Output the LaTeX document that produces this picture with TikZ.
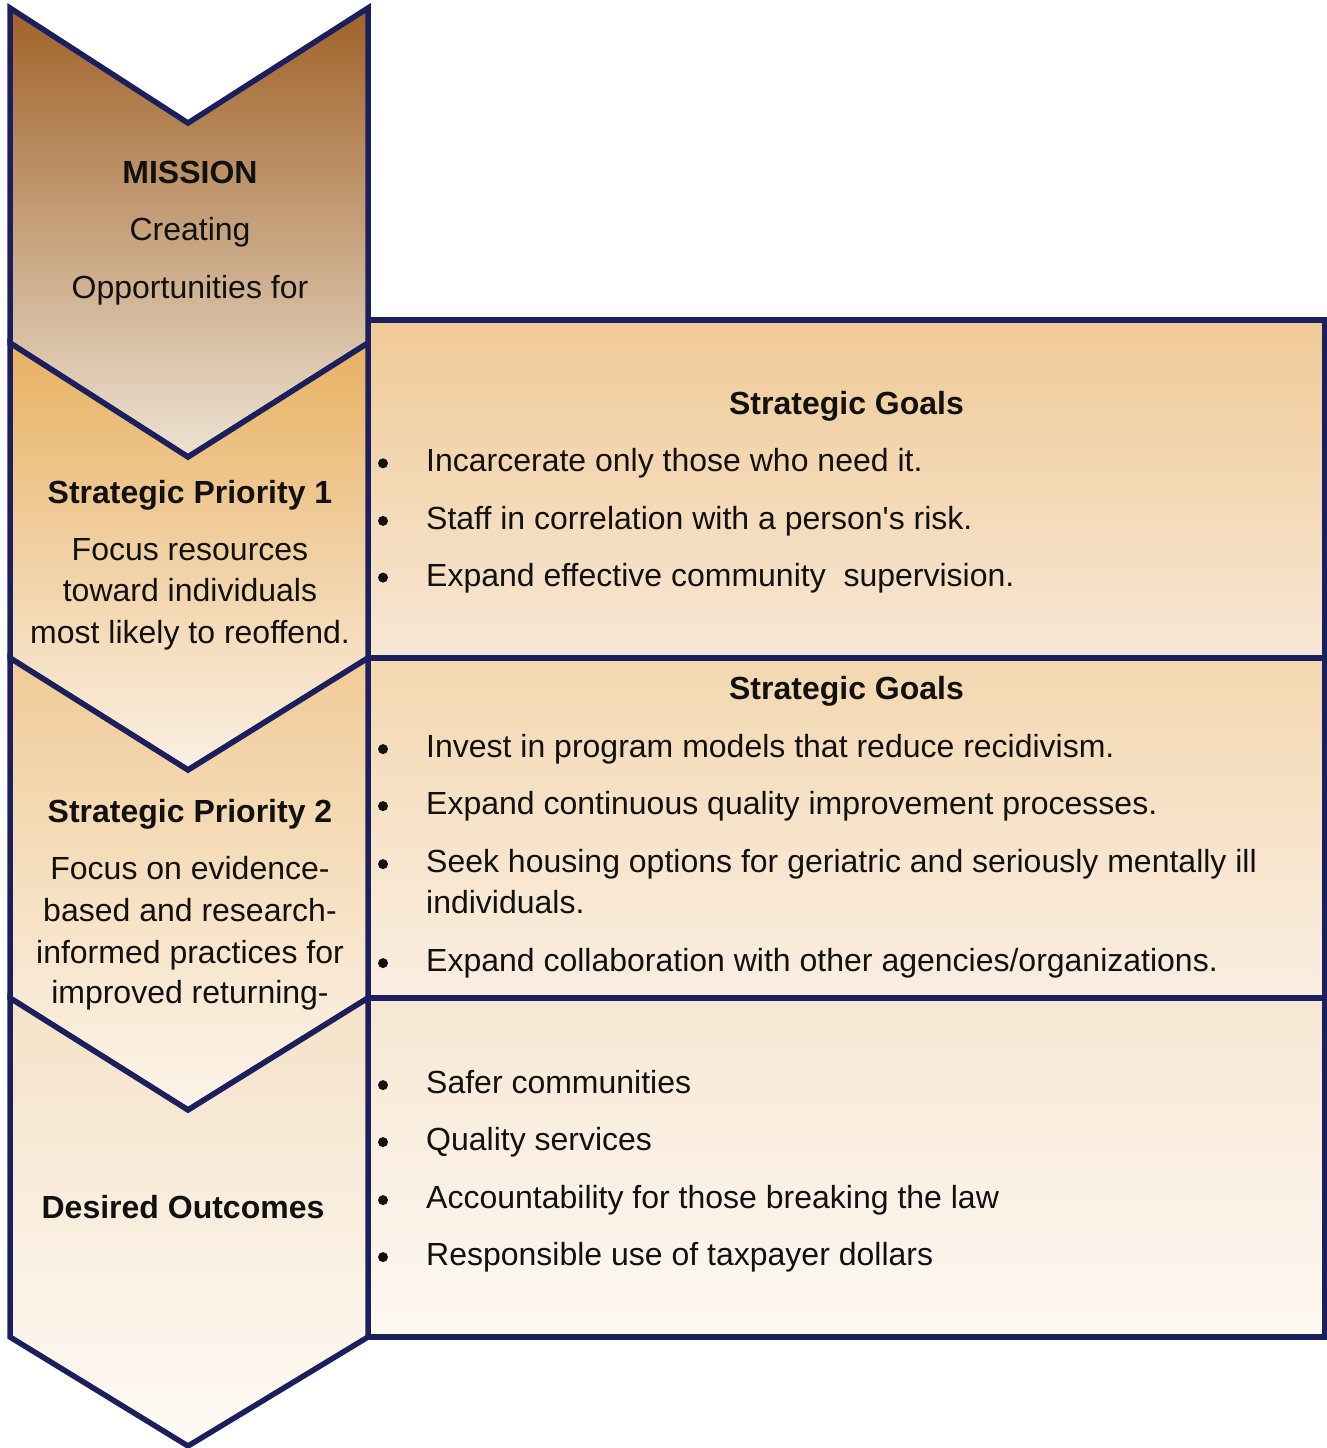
\documentclass[tikz,border=0pt]{standalone}
\usepackage{fontspec}
\setmainfont[Ligatures=TeXOff]{Liberation Sans}
\definecolor{navy}{RGB}{27,31,94}
\definecolor{ink}{RGB}{17,17,17}
\definecolor{mA}{RGB}{160,98,40}
\definecolor{mB}{RGB}{201,166,136}
\definecolor{mC}{RGB}{237,226,210}
\definecolor{pAt}{RGB}{232,177,98}
\definecolor{pAb}{RGB}{250,240,228}
\definecolor{pBt}{RGB}{240,203,150}
\definecolor{pBb}{RGB}{252,244,234}
\definecolor{pCt}{RGB}{245,226,200}
\definecolor{pCb}{RGB}{254,250,245}
\definecolor{bAt}{RGB}{240,202,150}
\definecolor{bAb}{RGB}{247,231,213}
\definecolor{bBt}{RGB}{243,216,176}
\definecolor{bBb}{RGB}{250,238,226}
\definecolor{bCt}{RGB}{247,231,211}
\definecolor{bCb}{RGB}{253,248,242}
\begin{document}
\begin{tikzpicture}[x=1pt,y=-1pt,
  outline/.style={draw=navy,line width=5.5pt,line join=miter},
  txt/.style={inner sep=0pt,anchor=base,text=ink,font=\fontsize{32}{38}\selectfont},
  ltxt/.style={txt,anchor=base west},
  btxt/.style={txt,font=\fontsize{32}{38}\selectfont\bfseries},
  bul/.style={fill=ink,draw=none}]
\useasboundingbox (0,0) rectangle (1327,1448);
% right boxes
\shade[top color=bAt,bottom color=bAb] (368,320) rectangle (1325,658);
\shade[top color=bBt,bottom color=bBb] (368,658) rectangle (1325,998);
\shade[top color=bCt,bottom color=bCb] (368,998) rectangle (1325,1337);
\draw[outline] (368,320) rectangle (1325,658);
\draw[outline] (368,658) rectangle (1325,998);
\draw[outline] (368,998) rectangle (1325,1337);
% chevrons
\shade[top color=mA,middle color=mB,bottom color=mC]
  (10,8) -- (188,123) -- (368,8) -- (368,343) -- (188,457) -- (10,343) -- cycle;
\draw[outline] (10,8) -- (188,123) -- (368,8) -- (368,343) -- (188,457) -- (10,343) -- cycle;
\shade[top color=pAt,bottom color=pAb]
  (10,343) -- (188,457) -- (368,343) -- (368,658) -- (188,770) -- (10,658) -- cycle;
\draw[outline] (10,343) -- (188,457) -- (368,343) -- (368,658) -- (188,770) -- (10,658) -- cycle;
\shade[top color=pBt,bottom color=pBb]
  (10,658) -- (188,770) -- (368,658) -- (368,998) -- (188,1110) -- (10,998) -- cycle;
\draw[outline] (10,658) -- (188,770) -- (368,658) -- (368,998) -- (188,1110) -- (10,998) -- cycle;
\shade[top color=pCt,bottom color=pCb]
  (10,998) -- (188,1110) -- (368,998) -- (368,1337) -- (188,1446) -- (10,1337) -- cycle;
\draw[outline] (10,998) -- (188,1110) -- (368,998) -- (368,1337) -- (188,1446) -- (10,1337) -- cycle;
% left texts
\node[btxt] (m0) at (190,183.5) {MISSION};
\node[txt] (m1) at (190,240.5) {Creating};
\node[txt] (m2) at (190,298) {Opportunities for};
\node[btxt] (p10) at (190,503) {Strategic Priority 1};
\node[txt] (p11) at (190,560) {Focus resources};
\node[txt] (p12) at (190,601.5) {toward individuals};
\node[txt] (p13) at (190,643) {most likely to reoffend.};
\node[btxt] (p20) at (190,822.5) {Strategic Priority 2};
\node[txt] (p21) at (190,879.5) {Focus on evidence-};
\node[txt] (p22) at (190,921.5) {based and research-};
\node[txt] (p23) at (190,963) {informed practices for};
\node[txt] (p24) at (190,1003.5) {improved returning-};
\node[btxt] (d0) at (183,1218.5) {Desired Outcomes};
% box 1
\node[btxt] (g1) at (846.5,414.3) {Strategic Goals};
\foreach \yy/\tt [count=\i] in {471.7/{Incarcerate only those who need it.},529.3/{Staff in correlation with a person's risk.},586/{Expand effective community\ \ supervision.}}{
  \fill[bul] (383,\yy-8.4) circle (5);
  \node[ltxt] (a\i) at (426,\yy) {\tt};
}
% box 2
\node[btxt] (g2) at (846.5,699.5) {Strategic Goals};
\foreach \yy/\tt [count=\i] in {757.5/{Invest in program models that reduce recidivism.},814.5/{Expand continuous quality improvement processes.},872.5/{Seek housing options for geriatric and seriously mentally ill},971.5/{Expand collaboration with other agencies/organizations.}}{
  \fill[bul] (383,\yy-8.4) circle (5);
  \node[ltxt] (b\i) at (426,\yy) {\tt};
}
\node[ltxt] (b3b) at (426,913.5) {individuals.};
% box 3
\foreach \yy/\tt [count=\i] in {1093.5/{Safer communities},1150.5/{Quality services},1208.5/{Accountability for those breaking the law},1265.5/{Responsible use of taxpayer dollars}}{
  \fill[bul] (383,\yy-8.4) circle (5);
  \node[ltxt] (c\i) at (426,\yy) {\tt};
}
\end{tikzpicture}
\end{document}
